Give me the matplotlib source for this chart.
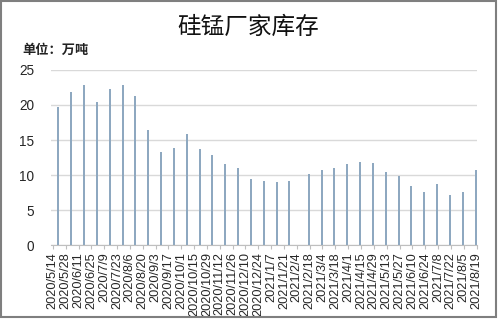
import pandas as pd
import matplotlib
matplotlib.use('Agg')
import matplotlib.pyplot as plt
from matplotlib.patches import Rectangle

plt.rcParams['font.family'] = ['Noto Sans CJK SC', 'DejaVu Sans']

bar_dates = ['2020/5/20', '2020/6/3', '2020/6/17', '2020/7/1', '2020/7/15',
             '2020/7/29', '2020/8/12', '2020/8/26', '2020/9/9', '2020/9/23',
             '2020/10/7', '2020/10/21', '2020/11/4', '2020/11/18', '2020/12/2',
             '2020/12/16', '2020/12/30', '2021/1/13', '2021/1/27',
             '2021/2/17', '2021/3/3', '2021/3/17', '2021/3/31', '2021/4/14',
             '2021/4/28', '2021/5/12', '2021/5/26', '2021/6/9', '2021/6/23',
             '2021/7/7', '2021/7/21', '2021/8/4', '2021/8/18']
stock = [19.7, 21.9, 22.9, 20.4, 22.3, 22.8, 21.3, 16.4, 13.3, 13.9,
         15.8, 13.7, 12.8, 11.6, 11.0, 9.4, 9.1, 9.0, 9.1,
         10.1, 10.8, 11.0, 11.6, 11.9, 11.7, 10.5, 9.9, 8.5, 7.6,
         8.8, 7.1, 7.6, 10.7]

tick_labels = ['2020/5/14', '2020/5/28', '2020/6/11', '2020/6/25', '2020/7/9',
               '2020/7/23', '2020/8/6', '2020/8/20', '2020/9/3', '2020/9/17',
               '2020/10/1', '2020/10/15', '2020/10/29', '2020/11/12',
               '2020/11/26', '2020/12/10', '2020/12/24', '2021/1/7',
               '2021/1/21', '2021/2/4', '2021/2/18', '2021/3/4', '2021/3/18',
               '2021/4/1', '2021/4/15', '2021/4/29', '2021/5/13', '2021/5/27',
               '2021/6/10', '2021/6/24', '2021/7/8', '2021/7/22', '2021/8/5',
               '2021/8/19']
y_ticks = [0, 5, 10, 15, 20, 25]

x = pd.to_datetime(bar_dates, format='%Y/%m/%d')
ticks = pd.to_datetime(tick_labels, format='%Y/%m/%d')

fig = plt.figure(figsize=(5, 3.19), dpi=100)
ax = fig.add_axes([0.102, 0.231, 0.852, 0.550])

ax.bar(x, stock, width=2.2, color='#8EA8C0', zorder=3, clip_on=False)

ax.set_ylim(0, 25)
ax.set_yticks(y_ticks)
ax.set_xlim(ticks[0] - pd.Timedelta(days=2), ticks[-1] + pd.Timedelta(days=0.5))
ax.set_xticks(ticks)
ax.set_xticklabels(tick_labels, rotation=90, family='Liberation Sans',
                   fontsize=9.2, color='#262626')
for lab in ax.get_yticklabels():
    lab.set_family('Liberation Sans')
ax.tick_params(axis='y', length=0, labelsize=9.8, colors='#262626', pad=12)
ax.tick_params(axis='x', length=3, color='#BFBFBF', pad=2)

ax.grid(axis='y', color='#D9D9D9', linewidth=1, zorder=0)
for s in ['top', 'right', 'left']:
    ax.spines[s].set_visible(False)
ax.spines['bottom'].set_color('#BFBFBF')

fig.text(0.496, 0.915, '硅锰厂家库存', ha='center', va='center',
         fontsize=17, color='#111111')
fig.text(0.044, 0.843, '单位：万吨', ha='left', va='center',
         fontsize=9.5, fontweight='bold', color='#222222')

# outer frame
fig.patches.append(Rectangle((0.002, 0.006), 0.990, 0.991, transform=fig.transFigure,
                             fill=False, edgecolor='#7F7F7F', linewidth=1.5))

fig.savefig('out.png', dpi=100)
